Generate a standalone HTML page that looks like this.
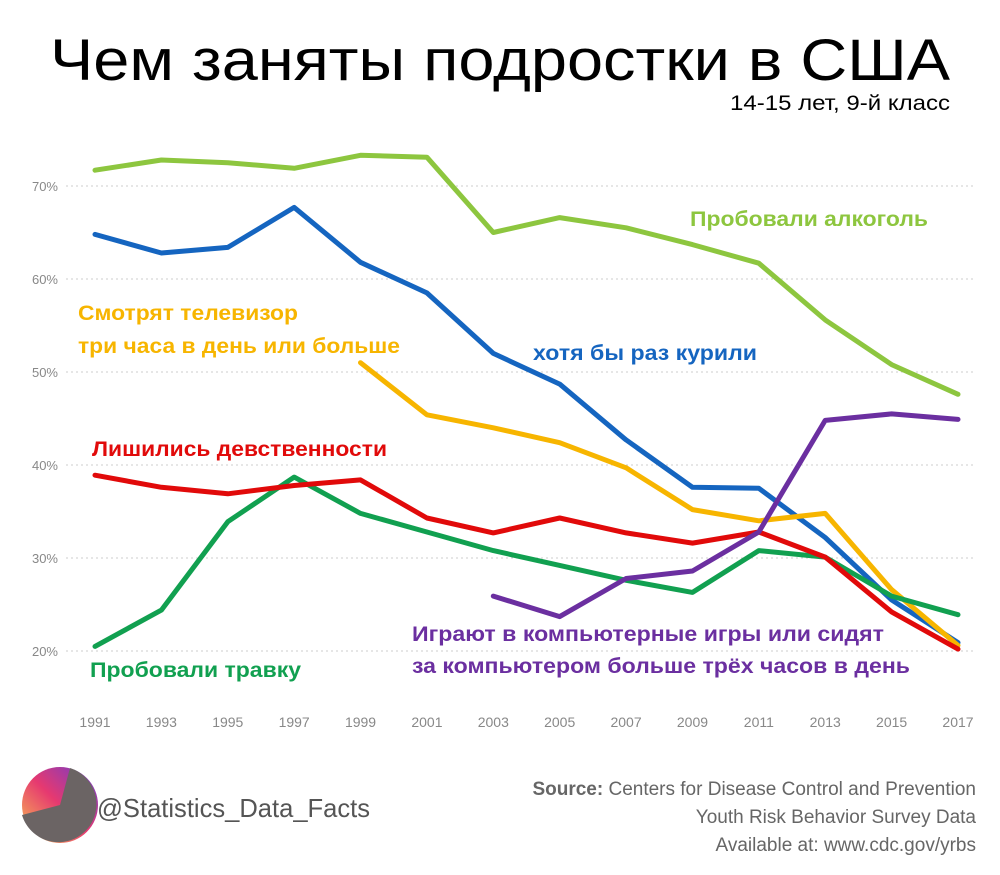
<!DOCTYPE html>
<html><head><meta charset="utf-8"><style>
body{margin:0;background:#fff;font-family:"Liberation Sans","DejaVu Sans",sans-serif}
#wrap{position:relative;width:1000px;height:875px;overflow:hidden}
</style></head><body>
<div id="wrap">
<svg id="chart" width="1000" height="875">
<text x="50" y="80" font-size="58" textLength="900" lengthAdjust="spacingAndGlyphs" fill="#000">Чем заняты подростки в США</text>
<text x="730" y="110" font-size="21" textLength="220" lengthAdjust="spacingAndGlyphs" fill="#000">14-15 лет, 9-й класс</text>
<g id="grid"></g><g id="xt"></g><g id="lines"></g>
<g font-size="21" font-weight="bold">
<text x="690" y="226" textLength="238" lengthAdjust="spacingAndGlyphs" fill="#8dc63f">Пробовали алкоголь</text>
<text x="78" y="320" textLength="220" lengthAdjust="spacingAndGlyphs" fill="#f7b500">Смотрят телевизор</text>
<text x="78" y="353" textLength="322" lengthAdjust="spacingAndGlyphs" fill="#f7b500">три часа в день или больше</text>
<text x="533" y="360" textLength="224" lengthAdjust="spacingAndGlyphs" fill="#1565c0">хотя бы раз курили</text>
<text x="92" y="456" textLength="295" lengthAdjust="spacingAndGlyphs" fill="#e10a0a">Лишились девственности</text>
<text x="90" y="677" textLength="211" lengthAdjust="spacingAndGlyphs" fill="#11a050">Пробовали травку</text>
<text x="412" y="641" textLength="472" lengthAdjust="spacingAndGlyphs" fill="#6b2fa0">Играют в компьютерные игры или сидят</text>
<text x="412" y="673" textLength="498" lengthAdjust="spacingAndGlyphs" fill="#6b2fa0">за компьютером больше трёх часов в день</text>
</g>
<g>
<defs><linearGradient id="lg" x1="0" y1="1" x2="1" y2="0"><stop offset="0" stop-color="#f9c74f"/><stop offset="0.5" stop-color="#e63970"/><stop offset="1" stop-color="#6a3bd1"/></linearGradient></defs>
<circle cx="60" cy="805" r="38" fill="url(#lg)"/>
<path d="M60 805 L70 768 A38 38 0 1 1 22 815 Z" fill="#6b6464"/>
</g>
<text x="97" y="817" font-size="26" textLength="273" lengthAdjust="spacingAndGlyphs" fill="#555">@Statistics_Data_Facts</text>
<text x="976" y="795" text-anchor="end" font-size="19" fill="#666"><tspan font-weight="bold">Source:</tspan> Centers for Disease Control and Prevention</text>
<text x="976" y="823" text-anchor="end" font-size="19" fill="#666">Youth Risk Behavior Survey Data</text>
<text x="976" y="851" text-anchor="end" font-size="19" fill="#666">Available at: www.cdc.gov/yrbs</text>
</svg></div>
<script>
const years=[1991,1993,1995,1997,1999,2001,2003,2005,2007,2009,2011,2013,2015,2017];
const yTicks=[20,30,40,50,60,70];
const alcohol=[71.7,72.8,72.5,71.9,73.3,73.1,65.0,66.6,65.5,63.7,61.7,55.6,50.8,47.6];
const smoking=[64.8,62.8,63.4,67.7,61.8,58.5,52.0,48.7,42.7,37.6,37.5,32.2,25.5,20.9];
const tv=[null,null,null,null,51.0,45.4,44.0,42.4,39.7,35.2,34.0,34.8,26.6,20.6];
const sex=[38.9,37.6,36.9,37.8,38.4,34.3,32.7,34.3,32.7,31.6,32.8,30.1,24.2,20.2];
const weed=[20.5,24.4,33.9,38.7,34.8,32.8,30.8,29.2,27.6,26.3,30.8,30.1,25.9,23.9];
const computer=[null,null,null,null,null,null,25.9,23.7,27.8,28.6,32.8,44.8,45.5,44.9];
const NS="http://www.w3.org/2000/svg";
const x=i=>95+i*(958-95)/(years.length-1);
const y=v=>651-(v-20)*9.3;
function mk(t,a,p){const e=document.createElementNS(NS,t);for(const k in a)e.setAttribute(k,a[k]);p.appendChild(e);return e;}
const grid=document.getElementById('grid');
yTicks.forEach(v=>{
 const l=mk('line',{x1:66,x2:975,y1:y(v),y2:y(v),stroke:'#ccc','stroke-dasharray':'2,3'},grid);
 
 
 const t=mk('text',{x:58,y:y(v)+5,'text-anchor':'end','font-size':13,fill:'#888'},grid);
 t.textContent=v+'%';
 
 
});
const xt=document.getElementById('xt');
years.forEach((yr,i)=>{
 const t=mk('text',{x:x(i),y:727,'text-anchor':'middle','font-size':14,fill:'#888'},xt);
 t.textContent=yr;
 
 
});
const lines=document.getElementById('lines');
[[alcohol,'#8dc63f','alcohol'],[smoking,'#1565c0','smoking'],[tv,'#f7b500','tv'],[weed,'#11a050','weed'],[sex,'#e10a0a','sex'],[computer,'#6b2fa0','computer']].forEach(([d,c,n])=>{
 const pts=[];d.forEach((v,i)=>{if(v!=null)pts.push(x(i).toFixed(1)+','+y(v).toFixed(1));});
 const p=mk('polyline',{points:pts.join(' '),fill:'none',stroke:c,'stroke-width':5,'stroke-linejoin':'round','stroke-linecap':'round'},lines);
 
 
});
</script>
</body></html>
